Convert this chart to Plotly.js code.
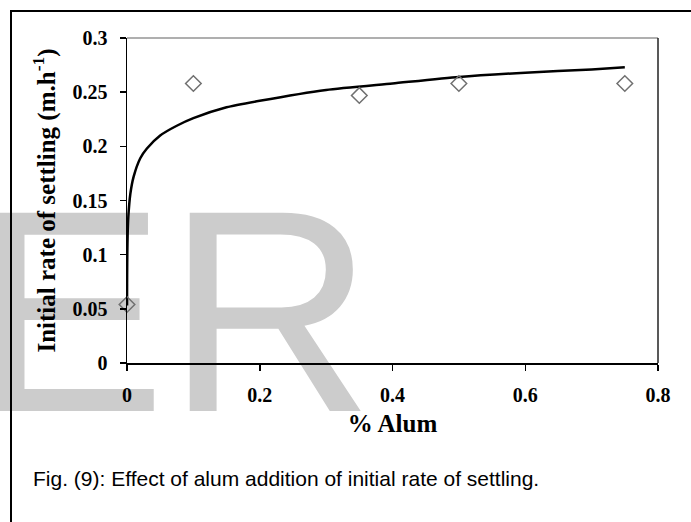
<!DOCTYPE html>
<html>
<head>
<meta charset="utf-8">
<script src="https://cdn.plot.ly/plotly-3.0.1.min.js"></script>
<style>
  html, body { margin: 0; padding: 0; background: #ffffff; }
  #wrap { position: relative; width: 691px; height: 522px; overflow: hidden; }
  #wm { position: absolute; left: 0; top: 0; }
  #chart { position: absolute; left: 0; top: 0; width: 691px; height: 522px; }
</style>
</head>
<body>
<div id="wrap">
  <svg id="wm" width="691" height="522" xmlns="http://www.w3.org/2000/svg">
    <text x="-26" y="411" font-family="Liberation Sans, Arial, sans-serif" font-size="288" fill="#cccccc">ER</text>
  </svg>
  <div id="chart"></div>
</div>
<script>
// Measured points (% alum vs initial settling rate)
const alumPct = [0, 0.1, 0.35, 0.5, 0.75];
const settlingRate = [0.054, 0.258, 0.247, 0.258, 0.258];

// Trend curve
const curveX = [0.00006, 0.0001, 0.0002, 0.0005, 0.001, 0.002, 0.005, 0.01, 0.02, 0.03, 0.05, 0.075, 0.1, 0.15, 0.2, 0.3, 0.4, 0.5, 0.6, 0.7, 0.75];
const curveY = [0.053, 0.065, 0.081, 0.103, 0.119, 0.135, 0.156, 0.172, 0.189, 0.198, 0.210, 0.219, 0.226, 0.236, 0.242, 0.252, 0.258, 0.264, 0.268, 0.271, 0.273];

// Tick labels
const xTickVals = [0, 0.2, 0.4, 0.6, 0.8];
const xTickText = ["0", "0.2", "0.4", "0.6", "0.8"];
const yTickVals = [0, 0.05, 0.1, 0.15, 0.2, 0.25, 0.3];
const yTickText = ["0", "0.05", "0.1", "0.15", "0.2", "0.25", "0.3"];

const serif = "Liberation Serif, Times New Roman, serif";

const traces = [
  {
    x: curveX, y: curveY, type: "scatter", mode: "lines",
    line: { color: "#000000", width: 2.5, shape: "spline", smoothing: 0.6 },
    cliponaxis: false, hoverinfo: "skip"
  },
  {
    x: alumPct, y: settlingRate, type: "scatter", mode: "markers",
    marker: { symbol: "diamond-open", size: 12, color: "#707070", line: { width: 1.5, color: "#707070" } },
    cliponaxis: false
  }
];

const L = 127, R = 658, T = 38, B = 363;
function px2x(p) { return (p - L) / (R - L); }
function px2y(p) { return (B - p) / (B - T); }

const layout = {
  width: 691, height: 522,
  margin: { l: L, r: 691 - R, t: T, b: 522 - B, pad: 0 },
  paper_bgcolor: "rgba(0,0,0,0)",
  plot_bgcolor: "rgba(0,0,0,0)",
  showlegend: false,
  xaxis: {
    range: [0, 0.8], tickvals: xTickVals, ticktext: xTickText,
    showgrid: false, zeroline: false,
    showline: true, linecolor: "#000000", linewidth: 1.5, mirror: false,
    ticks: "outside", ticklen: 6, tickwidth: 1.5, tickcolor: "#000000",
    ticklabelstandoff: 7,
    tickfont: { family: serif, size: 20, color: "#000000", weight: "bold" },
    title: { text: "% Alum", font: { family: serif, size: 25, color: "#000000", weight: "bold" }, standoff: 10 }
  },
  yaxis: {
    range: [0, 0.3], tickvals: yTickVals, ticktext: yTickText,
    showgrid: false, zeroline: false,
    showline: true, linecolor: "#000000", linewidth: 1.5, mirror: false,
    ticks: "outside", ticklen: 6, tickwidth: 1.5, tickcolor: "#000000",
    ticklabelstandoff: 8,
    tickfont: { family: serif, size: 20, color: "#000000", weight: "bold" },
    title: { text: "Initial rate of settling (m.h<sup>-1</sup>)", font: { family: serif, size: 25, color: "#000000", weight: "bold" }, standoff: 10 }
  },
  shapes: [
    // plot frame: top (grey, thin) and right (dark)
    { type: "line", xref: "paper", yref: "paper", x0: 0, x1: 1, y0: 1, y1: 1, line: { color: "#606060", width: 1.2 } },
    { type: "line", xref: "paper", yref: "paper", x0: 1, x1: 1, y0: 0, y1: 1, line: { color: "#222222", width: 1.5 } },
    // outer figure border: top and left
    { type: "line", xref: "paper", yref: "paper", x0: px2x(10), x1: px2x(691), y0: px2y(11), y1: px2y(11), line: { color: "#000000", width: 2 } },
    { type: "line", xref: "paper", yref: "paper", x0: px2x(11), x1: px2x(11), y0: px2y(10), y1: px2y(522), line: { color: "#000000", width: 2 } }
  ],
  annotations: [
    {
      text: "Fig. (9): Effect of alum addition of initial rate of settling.",
      xref: "paper", yref: "paper", x: px2x(31), y: px2y(478),
      xanchor: "left", yanchor: "middle", showarrow: false,
      font: { family: "Liberation Sans, Arial, sans-serif", size: 21, color: "#000000" }
    }
  ]
};

Plotly.newPlot("chart", traces, layout, { staticPlot: true, displayModeBar: false });
</script>
</body>
</html>
